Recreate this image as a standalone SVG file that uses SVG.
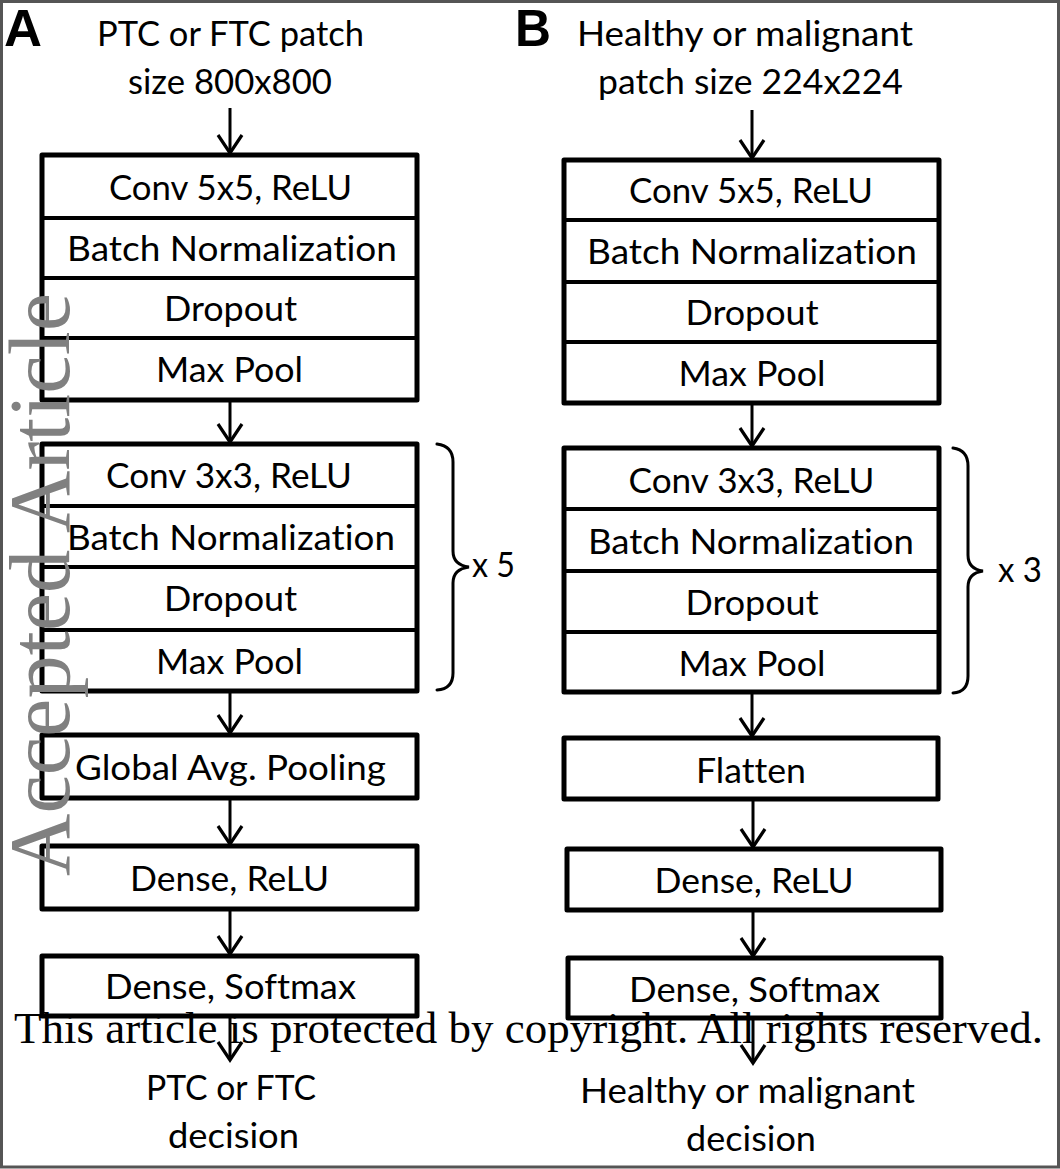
<svg xmlns="http://www.w3.org/2000/svg" width="1060" height="1169" viewBox="0 0 1060 1169">
<style>
.box{fill:#fff;stroke:#000;stroke-width:5;stroke-linejoin:round}
.div{stroke:#000;stroke-width:4}
.t{font-family:Lato,"Open Sans","Liberation Sans",sans-serif;font-size:35px;fill:#000;text-anchor:middle;font-variant-ligatures:none}
.tl{font-family:Lato,"Open Sans","Liberation Sans",sans-serif;font-size:35px;fill:#000;font-variant-ligatures:none}
.hd{font-family:"Liberation Sans",Arial,sans-serif;font-size:52px;font-weight:bold;fill:#000}
.arr{stroke:#000;stroke-width:3;fill:none;marker-end:url(#chev)}
.brace{stroke:#000;stroke-width:3;fill:none;stroke-linecap:round}
.wm{font-family:"Liberation Serif","Times New Roman",serif;font-size:86px;fill:#808080}
.cr{font-family:"Liberation Serif","Times New Roman",serif;font-size:45px;fill:#000}
</style>
<defs>
<marker id="chev" markerUnits="userSpaceOnUse" viewBox="-20 -20 40 40" markerWidth="40" markerHeight="40" refX="0" refY="0" orient="auto" overflow="visible">
<path d="M-18,-12 L0,0 L-18,12" fill="none" stroke="#000" stroke-width="3.2" stroke-linejoin="miter"/>
</marker>
</defs>
<rect x="0" y="0" width="1060" height="1169" fill="#fff"/>

<g id="labelA"><text class="hd" x="4" y="46" textLength="38" lengthAdjust="spacingAndGlyphs">A</text></g>
<g id="labelB"><text class="hd" x="515" y="46" textLength="36" lengthAdjust="spacingAndGlyphs">B</text></g>

<g id="inputA">
<text class="t" x="230.5" y="46" textLength="267" lengthAdjust="spacingAndGlyphs">PTC or FTC patch</text>
<text class="t" x="230" y="94" textLength="204" lengthAdjust="spacingAndGlyphs">size 800x800</text>
</g>
<g id="inputB">
<text class="t" x="745" y="46" textLength="336" lengthAdjust="spacingAndGlyphs">Healthy or malignant</text>
<text class="t" x="750.5" y="94" textLength="305" lengthAdjust="spacingAndGlyphs">patch size 224x224</text>
</g>

<g id="connectors">
<line class="arr" x1="230" y1="108" x2="230" y2="153"/>
<line class="arr" x1="230" y1="402" x2="230" y2="442"/>
<line class="arr" x1="230" y1="693" x2="230" y2="733"/>
<line class="arr" x1="230" y1="800" x2="230" y2="844"/>
<line class="arr" x1="230" y1="911" x2="230" y2="954"/>
<line class="arr" x1="230" y1="1018" x2="230" y2="1060"/>
<line class="arr" x1="752" y1="110" x2="752" y2="158"/>
<line class="arr" x1="752" y1="405" x2="752" y2="446"/>
<line class="arr" x1="752" y1="694" x2="752" y2="736"/>
<line class="arr" x1="753" y1="801" x2="753" y2="847"/>
<line class="arr" x1="753" y1="912" x2="753" y2="956"/>
<line class="arr" x1="753" y1="1020" x2="753" y2="1063"/>
<path class="brace" d="M437,444 Q453,446 453,462 L453,551 Q453,565 469,567 Q453,569 453,583 L453,673 Q453,689 437,690"/>
<path class="brace" d="M953,448 Q968,450 968,466 L968,555 Q968,569 983,571 Q968,573 968,587 L968,676 Q968,692 953,693"/>
</g>

<g id="stackA1">
<rect class="box" x="42" y="155" width="375" height="245"/>
<line class="div" x1="42" y1="218" x2="417" y2="218"/>
<line class="div" x1="42" y1="278" x2="417" y2="278"/>
<line class="div" x1="42" y1="338" x2="417" y2="338"/>
<text class="t" x="230.5" y="200" textLength="243" lengthAdjust="spacingAndGlyphs">Conv 5x5, ReLU</text>
<text class="t" x="232" y="261" textLength="330" lengthAdjust="spacingAndGlyphs">Batch Normalization</text>
<text class="t" x="230.5" y="321" textLength="133" lengthAdjust="spacingAndGlyphs">Dropout</text>
<text class="t" x="229.5" y="382" textLength="147" lengthAdjust="spacingAndGlyphs">Max Pool</text>
</g>
<g id="stackA2">
<rect class="box" x="42" y="444" width="375" height="247"/>
<line class="div" x1="42" y1="506" x2="417" y2="506"/>
<line class="div" x1="42" y1="567" x2="417" y2="567"/>
<line class="div" x1="42" y1="630" x2="417" y2="630"/>
<text class="t" x="229" y="488" textLength="246" lengthAdjust="spacingAndGlyphs">Conv 3x3, ReLU</text>
<text class="t" x="231" y="550" textLength="328" lengthAdjust="spacingAndGlyphs">Batch Normalization</text>
<text class="t" x="230.5" y="611" textLength="133" lengthAdjust="spacingAndGlyphs">Dropout</text>
<text class="t" x="229.5" y="674" textLength="147" lengthAdjust="spacingAndGlyphs">Max Pool</text>
</g>
<g id="repeatA"><text class="tl" x="472" y="577" textLength="43" lengthAdjust="spacingAndGlyphs">x 5</text></g>
<g id="gapA">
<rect class="box" x="42" y="735" width="375" height="63"/>
<text class="t" x="230.5" y="780" textLength="311" lengthAdjust="spacingAndGlyphs">Global Avg. Pooling</text>
</g>
<g id="denseReluA">
<rect class="box" x="42" y="846" width="375" height="63"/>
<text class="t" x="229.5" y="891" textLength="199" lengthAdjust="spacingAndGlyphs">Dense, ReLU</text>
</g>
<g id="softmaxA">
<rect class="box" x="42" y="956" width="375" height="60"/>
<text class="t" x="230.5" y="999" textLength="251" lengthAdjust="spacingAndGlyphs">Dense, Softmax</text>
</g>
<g id="outputA">
<text class="t" x="231" y="1100" textLength="170" lengthAdjust="spacingAndGlyphs">PTC or FTC</text>
<text class="t" x="233.5" y="1148" textLength="131" lengthAdjust="spacingAndGlyphs">decision</text>
</g>

<g id="stackB1">
<rect class="box" x="564" y="160" width="375" height="243"/>
<line class="div" x1="564" y1="220" x2="939" y2="220"/>
<line class="div" x1="564" y1="282" x2="939" y2="282"/>
<line class="div" x1="564" y1="342" x2="939" y2="342"/>
<text class="t" x="751" y="203" textLength="244" lengthAdjust="spacingAndGlyphs">Conv 5x5, ReLU</text>
<text class="t" x="752" y="264" textLength="330" lengthAdjust="spacingAndGlyphs">Batch Normalization</text>
<text class="t" x="752" y="325" textLength="133" lengthAdjust="spacingAndGlyphs">Dropout</text>
<text class="t" x="752" y="386" textLength="147" lengthAdjust="spacingAndGlyphs">Max Pool</text>
</g>
<g id="stackB2">
<rect class="box" x="564" y="448" width="375" height="244"/>
<line class="div" x1="564" y1="509" x2="939" y2="509"/>
<line class="div" x1="564" y1="571" x2="939" y2="571"/>
<line class="div" x1="564" y1="632" x2="939" y2="632"/>
<text class="t" x="751.5" y="493" textLength="246" lengthAdjust="spacingAndGlyphs">Conv 3x3, ReLU</text>
<text class="t" x="751" y="554" textLength="326" lengthAdjust="spacingAndGlyphs">Batch Normalization</text>
<text class="t" x="752" y="615" textLength="133" lengthAdjust="spacingAndGlyphs">Dropout</text>
<text class="t" x="752" y="676" textLength="147" lengthAdjust="spacingAndGlyphs">Max Pool</text>
</g>
<g id="repeatB"><text class="tl" x="998" y="582" textLength="44" lengthAdjust="spacingAndGlyphs">x 3</text></g>
<g id="flattenB">
<rect class="box" x="564" y="738" width="374" height="61"/>
<text class="t" x="751" y="783" textLength="110" lengthAdjust="spacingAndGlyphs">Flatten</text>
</g>
<g id="denseReluB">
<rect class="box" x="567" y="849" width="374" height="61"/>
<text class="t" x="754" y="893" textLength="199" lengthAdjust="spacingAndGlyphs">Dense, ReLU</text>
</g>
<g id="softmaxB">
<rect class="box" x="568" y="958" width="373" height="60"/>
<text class="t" x="754.5" y="1002" textLength="251" lengthAdjust="spacingAndGlyphs">Dense, Softmax</text>
</g>
<g id="outputB">
<text class="t" x="747.5" y="1103" textLength="335" lengthAdjust="spacingAndGlyphs">Healthy or malignant</text>
<text class="t" x="751" y="1151" textLength="130" lengthAdjust="spacingAndGlyphs">decision</text>
</g>

<g id="watermark">
<text class="wm" transform="translate(69,876) rotate(-90)" textLength="583" lengthAdjust="spacingAndGlyphs">Accepted Article</text>
<text class="cr" x="14" y="1043" textLength="1029" lengthAdjust="spacingAndGlyphs">This article is protected by copyright. All rights reserved.</text>
</g>

<rect x="1.5" y="1.5" width="1057" height="1165.5" fill="none" stroke="#555" stroke-width="3"/>
</svg>
